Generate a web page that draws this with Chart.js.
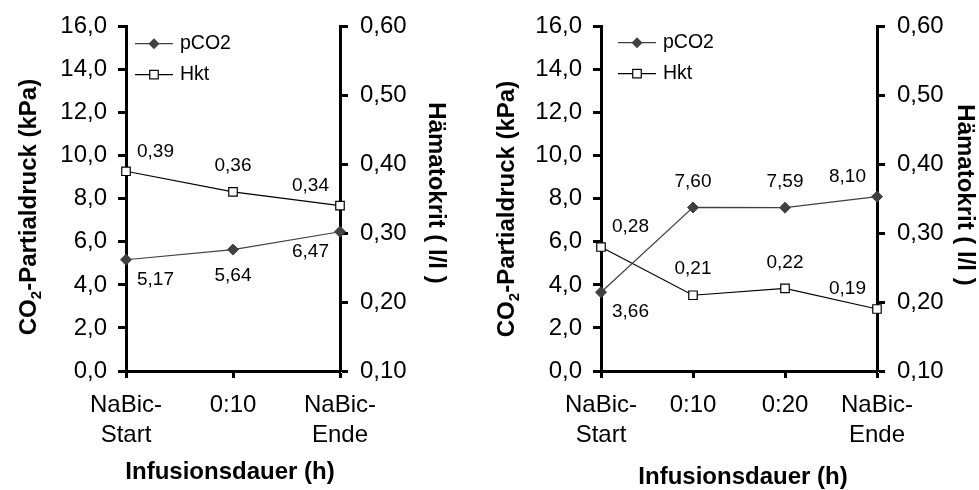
<!DOCTYPE html>
<html>
<head>
<meta charset="utf-8">
<script src="https://cdn.jsdelivr.net/npm/chart.js@4.4.1/dist/chart.umd.min.js"></script>
<style>
    html, body { margin: 0; padding: 0; background: #fff; }
    #wrap { position: relative; width: 979px; height: 490px; }
    canvas { position: absolute; top: 0; }
    #leftChart { left: 0; }
    #rightChart { left: 490px; }
</style>
</head>
<body>
<div id="wrap">
    <canvas id="leftChart" width="490" height="490"></canvas>
    <canvas id="rightChart" width="489" height="490"></canvas>
</div>
<script>
// left panel: 3 time points
const leftCategories = [['NaBic-', 'Start'], '0:10', ['NaBic-', 'Ende']];
const leftPco2 = [5.17, 5.64, 6.47];
const leftHkt = [0.39, 0.36, 0.34];

// right panel: 4 time points
const rightCategories = [['NaBic-', 'Start'], '0:10', '0:20', ['NaBic-', 'Ende']];
const rightPco2 = [3.66, 7.60, 7.59, 8.10];
const rightHkt = [0.28, 0.21, 0.22, 0.19];

// axis ranges: min, max, step
const pco2Axis = [0, 16, 2];
const hktAxis = [0.1, 0.6, 0.1];

const seriesNames = ['pCO2', 'Hkt'];
const xTitle = 'Infusionsdauer (h)';
const hktTitle = 'Hämatokrit ( l/l )';

const FONT = '"Liberation Sans", Arial, sans-serif';
const comma = (v, d) => v.toFixed(d).replace('.', ',');

// value labels next to each point, kept inside the plot area like Excel does
const pointLabels = {
    id: 'pointLabels',
    afterDatasetsDraw(chart) {
        const ctx = chart.ctx;
        const area = chart.chartArea;
        ctx.save();
        ctx.font = '19px ' + FONT;
        ctx.fillStyle = '#000';
        ctx.textAlign = 'center';
        ctx.textBaseline = 'middle';
        chart.data.datasets.forEach((ds, i) => {
            chart.getDatasetMeta(i).data.forEach((pt, j) => {
                const text = comma(ds.data[j], 2);
                const half = ctx.measureText(text).width / 2;
                const x = Math.max(area.left + 11 + half, Math.min(area.right - 11 - half, pt.x));
                const gap = x !== pt.x ? 20 : 26;
                const y = ds.labelSide[j] === 'below' ? pt.y + gap : pt.y - gap;
                ctx.fillText(text, x, y);
            });
        });
        ctx.restore();
    }
};

function drawDiamond(ctx, x, y, r) {
    ctx.beginPath();
    ctx.moveTo(x, y - r);
    ctx.lineTo(x + r, y);
    ctx.lineTo(x, y + r);
    ctx.lineTo(x - r, y);
    ctx.closePath();
    ctx.fillStyle = '#404040';
    ctx.fill();
}

function drawSquare(ctx, x, y, s) {
    ctx.fillStyle = '#fff';
    ctx.fillRect(x - s / 2, y - s / 2, s, s);
    ctx.lineWidth = 1.2;
    ctx.strokeStyle = '#000';
    ctx.strokeRect(x - s / 2, y - s / 2, s, s);
}

// legend with line + marker, placed in the upper left corner of the plot
const miniLegend = {
    id: 'miniLegend',
    afterDraw(chart, args, opts) {
        const ctx = chart.ctx;
        const x0 = chart.chartArea.left + opts.dx;
        const x1 = x0 + 38;
        ctx.save();
        ctx.font = '19.5px ' + FONT;
        ctx.textBaseline = 'middle';
        ctx.textAlign = 'left';
        chart.data.datasets.forEach((ds, i) => {
            const y = chart.chartArea.top + opts.dy + i * 31;
            ctx.beginPath();
            ctx.moveTo(x0, y);
            ctx.lineTo(x1, y);
            ctx.lineWidth = 1.2;
            ctx.strokeStyle = ds.borderColor;
            ctx.stroke();
            if (i === 0) drawDiamond(ctx, (x0 + x1) / 2, y, 5.5);
            else drawSquare(ctx, (x0 + x1) / 2, y, 8.5);
            ctx.fillStyle = '#000';
            ctx.fillText(ds.label, x1 + 7, y);
        });
        ctx.restore();
    }
};

// axis titles drawn by hand so the CO2 title can get its subscript
const axisTitles = {
    id: 'axisTitles',
    afterDraw(chart, args, opts) {
        const ctx = chart.ctx;
        const big = 'bold 24px ' + FONT;
        const small = 'bold 15px ' + FONT;
        ctx.save();
        ctx.fillStyle = '#000';
        ctx.textAlign = 'left';
        ctx.textBaseline = 'alphabetic';

        // left title, read bottom to top
        ctx.save();
        ctx.translate(opts.left[0], opts.left[1]);
        ctx.rotate(-Math.PI / 2);
        ctx.font = big;
        const w1 = ctx.measureText('CO').width;
        const w3 = ctx.measureText('-Partialdruck (kPa)').width;
        ctx.font = small;
        const w2 = ctx.measureText('2').width;
        let x = -(w1 + w2 + w3) / 2;
        ctx.font = big;
        ctx.fillText('CO', x, 8.5);
        x += w1;
        ctx.font = small;
        ctx.fillText('2', x, 13.5);
        x += w2;
        ctx.font = big;
        ctx.fillText('-Partialdruck (kPa)', x, 8.5);
        ctx.restore();

        // right title, read top to bottom
        ctx.save();
        ctx.translate(opts.right[0], opts.right[1]);
        ctx.rotate(Math.PI / 2);
        ctx.font = big;
        ctx.textAlign = 'center';
        ctx.fillText(hktTitle, 0, 8.5);
        ctx.restore();

        ctx.font = big;
        ctx.textAlign = 'center';
        ctx.textBaseline = 'middle';
        ctx.fillText(xTitle, opts.bottom[0], opts.bottom[1]);
        ctx.restore();
    }
};

function axisGrid(len) {
    return { display: true, drawOnChartArea: false, drawTicks: true, tickLength: len, tickWidth: 3, tickColor: '#000' };
}

function buildPanel(canvasId, categories, pco2, hkt, pco2Sides, layout) {
    const canvas = document.getElementById(canvasId);
    const tickFont = { family: FONT, size: 24, lineHeight: 1.22 };
    return new Chart(canvas, {
        type: 'line',
        data: {
            labels: categories,
            datasets: [
                {
                    label: seriesNames[0],
                    data: pco2,
                    yAxisID: 'y',
                    borderColor: '#404040',
                    borderWidth: 1.2,
                    pointStyle: 'rectRot',
                    pointRadius: 5.5,
                    pointBackgroundColor: '#404040',
                    pointBorderColor: '#404040',
                    pointBorderWidth: 1,
                    clip: false,
                    labelSide: pco2Sides
                },
                {
                    label: seriesNames[1],
                    data: hkt,
                    yAxisID: 'y1',
                    borderColor: '#000',
                    borderWidth: 1.2,
                    pointStyle: 'rect',
                    pointRadius: 6,
                    pointBackgroundColor: '#fff',
                    pointBorderColor: '#000',
                    pointBorderWidth: 1.2,
                    clip: false,
                    labelSide: hkt.map(() => 'above')
                }
            ]
        },
        options: {
            responsive: false,
            animation: false,
            layout: { padding: { top: layout.top, left: 0, right: 0, bottom: 0 } },
            plugins: {
                legend: { display: false },
                tooltip: { enabled: false },
                miniLegend: layout.legend,
                axisTitles: layout.titles
            },
            scales: {
                x: {
                    grid: axisGrid(7),
                    border: { display: true, color: '#000', width: 3 },
                    ticks: { color: '#000', font: tickFont, padding: 13, maxRotation: 0, autoSkip: false },
                    afterFit: s => { s.height = canvas.height - layout.bottom; }
                },
                y: {
                    position: 'left',
                    min: pco2Axis[0],
                    max: pco2Axis[1],
                    grid: axisGrid(8),
                    border: { display: true, color: '#000', width: 3 },
                    ticks: { stepSize: pco2Axis[2], color: '#000', font: tickFont, padding: 11, callback: v => comma(v, 1) },
                    afterFit: s => { s.width = layout.left; }
                },
                y1: {
                    position: 'right',
                    min: hktAxis[0],
                    max: hktAxis[1],
                    grid: axisGrid(8),
                    border: { display: true, color: '#000', width: 3 },
                    ticks: { stepSize: hktAxis[2], color: '#000', font: tickFont, padding: 12, callback: v => comma(v, 2) },
                    afterFit: s => { s.width = canvas.width - layout.right; }
                }
            }
        },
        plugins: [pointLabels, miniLegend, axisTitles]
    });
}

buildPanel('leftChart', leftCategories, leftPco2, leftHkt, ['below', 'below', 'below'], {
    top: 15, bottom: 371, left: 126, right: 340,
    legend: { dx: 9, dy: 17 },
    titles: { left: [27, 207], right: [437, 193], bottom: [230, 472] }
});

buildPanel('rightChart', rightCategories, rightPco2, rightHkt, ['below', 'above', 'above', 'above'], {
    top: 13, bottom: 371, left: 111, right: 387,
    legend: { dx: 17, dy: 16 },
    titles: { left: [15, 209], right: [476, 195], bottom: [253, 477] }
});
</script>
</body>
</html>
